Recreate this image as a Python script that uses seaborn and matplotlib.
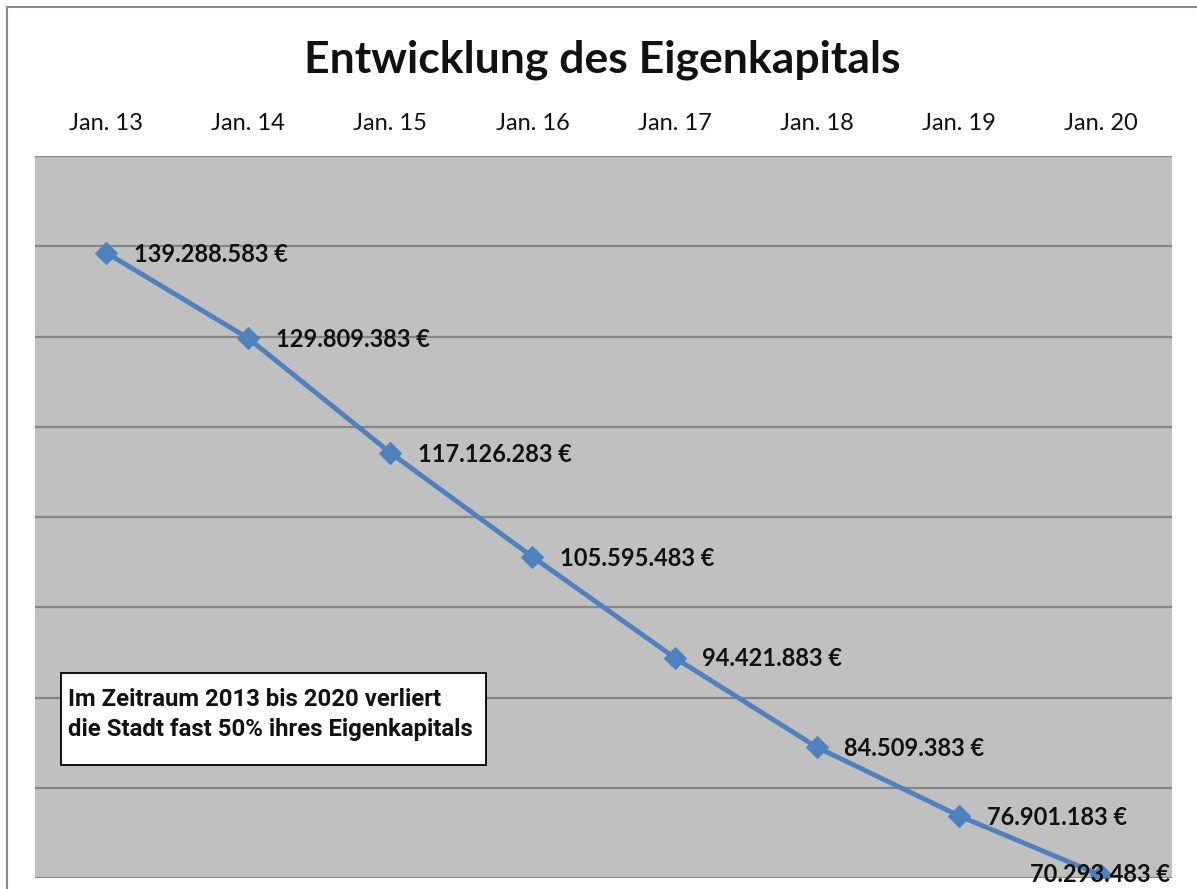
import numpy as np
import pandas as pd
import matplotlib
matplotlib.use("Agg")
import matplotlib.pyplot as plt
from matplotlib.patches import Rectangle
import seaborn as sns

sns.set_style("white")
plt.rcParams['font.family'] = ['Lato', 'DejaVu Sans']

# data
months = ["Jan. 13", "Jan. 14", "Jan. 15", "Jan. 16", "Jan. 17", "Jan. 18", "Jan. 19", "Jan. 20"]
equity = [139288583, 129809383, 117126283, 105595483, 94421883, 84509383, 76901183, 70293483]
title = "Entwicklung des Eigenkapitals"
note = "Im Zeitraum 2013 bis 2020 verliert\ndie Stadt fast 50% ihres Eigenkapitals"

df = pd.DataFrame({"month": months, "equity": equity})

def fmt_eur(v):
    return f"{v:,.0f} €".replace(",", ".")

W, H = 1197, 889
fig = plt.figure(figsize=(W / 100, H / 100), dpi=100)
ax = fig.add_axes([35 / W, 1 - 878 / H, (1172 - 35) / W, (878 - 156) / H])
ax.set_facecolor("#C0C0C0")

sns.lineplot(data=df, x="month", y="equity", ax=ax, color="#4F81BD",
             linewidth=3.5, marker="D", markersize=11.5, markeredgecolor="#4F81BD",
             sort=False)

ax.set_xlim(-0.5, len(months) - 0.5)
ax.set_ylim(70e6, 150e6)
ax.set_yticks(np.arange(70e6, 150e6 + 1, 10e6))
ax.set_yticklabels([])
ax.yaxis.grid(True, color="#868686", linewidth=1.6)
ax.xaxis.grid(False)
ax.set_axisbelow(True)
ax.xaxis.tick_top()
ax.tick_params(axis="x", length=0, pad=16, labelsize=17, labelcolor="#111111")
ax.tick_params(axis="y", length=0)
ax.set_xlabel("")
ax.set_ylabel("")
for s in ax.spines.values():
    s.set_visible(False)

# data labels
for i, v in enumerate(equity):
    if i == len(equity) - 1:
        ax.annotate(fmt_eur(v), (i, v), xytext=(-1, 0.5), textcoords="offset points",
                    ha="center", va="center", fontsize=17, fontweight="bold",
                    color="#111111", annotation_clip=False)
    else:
        ax.annotate(fmt_eur(v), (i, v), xytext=(20, -1), textcoords="offset points",
                    ha="left", va="center", fontsize=17, fontweight="bold",
                    color="#111111")

fig.text(0.5035, 1 - 73 / H, title, ha="center", va="baseline", fontsize=32,
         fontweight="bold", color="#111111")

# note box
fig.patches.append(Rectangle((61 / W, 1 - 765 / H), (486 - 61) / W, (765 - 673) / H,
                             transform=fig.transFigure, facecolor="white",
                             edgecolor="black", linewidth=1.3, zorder=5))
fig.text(68 / W, 1 - 688 / H, note, ha="left", va="top", fontsize=17.2,
         fontweight="bold", color="#111111",
         family=["Roboto", "DejaVu Sans"], linespacing=1.38, zorder=6)

# outer chart border
fig.patches.append(Rectangle((7 / W, -0.1), 1.2, 1.1 - 7 / H, transform=fig.transFigure,
                             fill=False, edgecolor="#8C8C8C", linewidth=1.5))

fig.savefig("out.png", dpi=100)
